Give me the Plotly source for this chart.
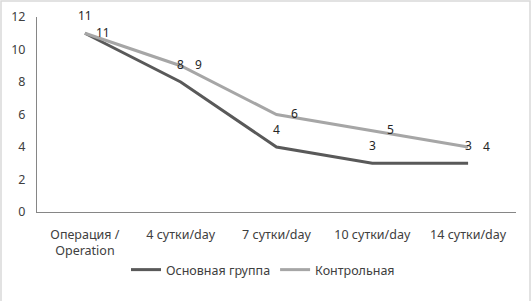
import plotly.graph_objects as go

categories = ["Операция /<br>Operation", "4 сутки/day", "7 сутки/day", "10 сутки/day", "14 сутки/day"]
main_group = [11, 8, 4, 3, 3]
control_group = [11, 9, 6, 5, 4]
y_ticks = [0, 2, 4, 6, 8, 10, 12]

W, H = 532, 301
L, R, T, B = 37, 16, 17, 89
pw, ph = W - L - R, H - T - B
FONT = "Noto Sans"

fig = go.Figure()
fig.add_trace(go.Scatter(
    x=categories, y=main_group, name="Основная группа", mode="lines",
    line=dict(color="#595959", width=3),
))
fig.add_trace(go.Scatter(
    x=categories, y=control_group, name="Контрольная", mode="lines",
    line=dict(color="#a6a6a6", width=3),
))

for c, v in zip(categories, main_group):
    fig.add_annotation(x=c, y=v, text=str(v), showarrow=False, yshift=18, xshift=0,
                       font=dict(size=12, color="#262626", family=FONT))
for c, v in zip(categories, control_group):
    fig.add_annotation(x=c, y=v, text=str(v), showarrow=False, yshift=1, xshift=18,
                       font=dict(size=12, color="#262626", family=FONT))

fig.add_shape(type="rect", xref="paper", yref="paper",
              x0=(1 - L) / pw, x1=(W - 2 - L) / pw,
              y0=-(H + 5 - T - ph) / ph, y1=(ph + T - 1) / ph,
              line=dict(color="#d9d9d9", width=1.5), layer="below")

fig.update_layout(
    width=W, height=H,
    margin=dict(l=L, r=R, t=T, b=B, autoexpand=False),
    paper_bgcolor="white", plot_bgcolor="white",
    font=dict(family=FONT, size=12, color="#404040"),
    showlegend=True,
    legend=dict(orientation="h", x=(263 - L) / pw, xanchor="center", y=(T + ph - 270) / ph, yanchor="middle",
                font=dict(size=12.5, color="#404040"), itemwidth=30),
    xaxis=dict(type="category", range=[-0.5, 4.5], showgrid=False, showline=True, automargin=False,
               linecolor="#868686", linewidth=1, ticks="", ticklabelstandoff=11,
               tickfont=dict(size=12.5, color="#404040")),
    yaxis=dict(range=[0, 12], tickvals=y_ticks, showgrid=False, showline=True, automargin=False,
               linecolor="#868686", linewidth=1, ticks="", zeroline=False, ticklabelstandoff=8,
               tickfont=dict(size=12.5, color="#404040")),
)

fig.write_html("out.html", config={"displayModeBar": False},
               post_script="document.body.style.margin='0';document.body.style.overflow='hidden';")
